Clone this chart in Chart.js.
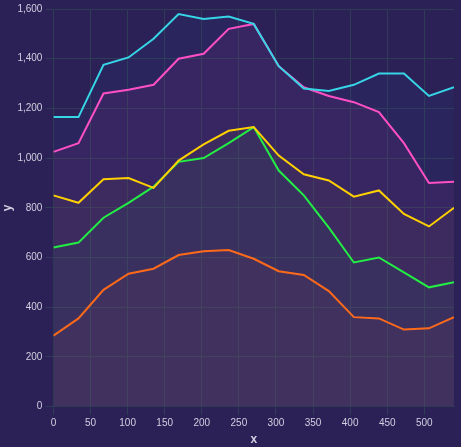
<!DOCTYPE html>
<html><head>
<script src="https://cdn.jsdelivr.net/npm/chart.js@4"></script>
<style>
html,body{margin:0;background:#2c2157;}
#wrap{width:461px;height:447px;}
</style></head><body>
<div id="wrap"><canvas id="c"></canvas></div>
<script>
const xs = [0,33.75,67.5,101.25,135,168.75,202.5,236.25,270,303.75,337.5,371.25,405,438.75,472.5,506.25,540];
const cyan = [1165,1165,1375,1405,1480,1580,1560,1570,1540,1370,1280,1270,1295,1340,1340,1250,1285];
const pink = [1025,1060,1260,1275,1295,1400,1420,1520,1540,1370,1285,1250,1225,1185,1060,900,905];
const yellow = [850,820,915,920,880,990,1055,1110,1125,1010,935,910,845,870,775,725,800];
const green = [640,660,760,820,885,985,1000,1060,1125,950,850,720,580,600,540,480,500];
const orange = [285,355,470,535,555,610,625,630,595,545,530,465,360,355,310,315,360];

const series = [
  [cyan, "#36d6e7", "rgba(40,80,160,0.10)"],
  [pink, "#ff4fc4", "rgba(200,50,140,0.10)"],
  [yellow, "#ffd000", "rgba(160,130,20,0.05)"],
  [green, "#22ee44", "rgba(10,120,110,0.10)"],
  [orange, "#ff6a1a", "rgba(230,70,60,0.05)"]
];

new Chart(document.getElementById("c"), {
  type: "line",
  data: {
    datasets: series.map(([v, c, f]) => ({
      data: v.map((y, i) => ({ x: xs[i], y })),
      borderColor: c,
      backgroundColor: f,
      borderWidth: 2,
      pointRadius: 0,
      fill: "origin",
      tension: 0
    }))
  },
  options: {
    responsive: true,
    maintainAspectRatio: false,
    animation: false,
    layout: { padding: { right: 7, top: 2 } },
    plugins: { legend: { display: false }, tooltip: { enabled: false }, filler: { drawTime: "beforeDatasetsDraw" } },
    scales: {
      x: {
        type: "linear", min: 0, max: 540,
        ticks: { stepSize: 50, color: "#d0d0e0", font: { size: 10 },
          callback: v => v % 50 === 0 ? v : "" },
        afterBuildTicks: a => { a.ticks = a.ticks.filter(t => t.value % 50 === 0); },
        grid: { color: "#2f3c55" },
        border: { color: "#2f3c55" },
        title: { display: true, text: "x", color: "#d0d0e0", font: { size: 12, weight: "bold" }, padding: 0 }
      },
      y: {
        min: 0, max: 1600,
        ticks: { stepSize: 200, color: "#d0d0e0", font: { size: 10 } },
        grid: { color: "#2f3c55" },
        border: { color: "#2f3c55" },
        title: { display: true, text: "y", color: "#d0d0e0", font: { size: 12, weight: "bold" }, padding: 0 }
      }
    }
  }
});
</script>
</body></html>
